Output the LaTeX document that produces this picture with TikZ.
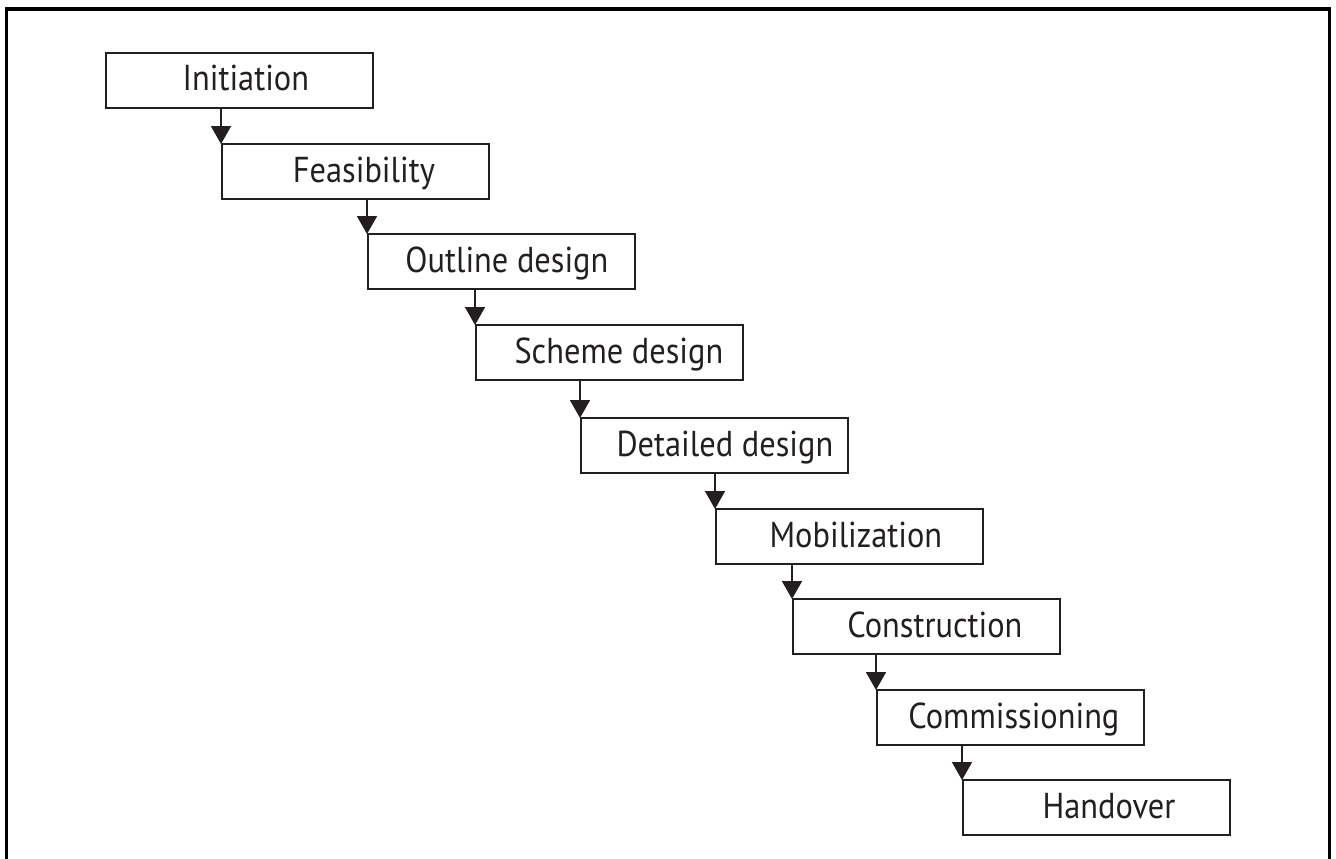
\documentclass[tikz,border=0pt]{standalone}
\usepackage{fontspec}
\setmainfont{PT Sans}[FakeStretch=0.9]
\usetikzlibrary{arrows.meta}
\definecolor{ink}{HTML}{231F20}
\begin{document}
\begin{tikzpicture}[x=1pt,y=-1pt,
  stage/.style={draw=ink, line width=1.8pt, minimum width=267pt, minimum height=55pt,
    inner sep=0pt, anchor=north west},
  caption/.style={anchor=base, text=ink, font=\fontsize{36}{40}\selectfont, inner sep=0pt},
  flow/.style={draw=ink, line width=1.8pt, -{Triangle[width=20pt,length=18pt]}, shorten >=-1pt},
  frame/.style={draw=black, line width=3.5pt}]
\useasboundingbox (0,0) rectangle (1336,859);
% open frame: no bottom edge
\draw[frame] (6.5,859) -- (6.5,9) -- (1329.5,9) -- (1329.5,859);

% stages of the staircase
\node[stage] (s1) at (105,52) {};
\node[stage] (s2) at (221,143) {};
\node[stage] (s3) at (367,233) {};
\node[stage] (s4) at (475,324) {};
\node[stage] (s5) at (580,417) {};
\node[stage] (s6) at (715,508) {};
\node[stage] (s7) at (792,598) {};
\node[stage] (s8) at (876,689) {};
\node[stage] (s9) at (962,779) {};

% stage names
\node[caption] (t1) at ([xshift=6.5pt,yshift=-39pt]s1.north) {Initiation};
\node[caption] (t2) at ([xshift=8.5pt,yshift=-39pt]s2.north) {Feasibility};
\node[caption] (t3) at ([xshift=5.5pt,yshift=-39pt]s3.north) {Outline design};
\node[caption] (t4) at ([xshift=9.5pt,yshift=-39pt]s4.north) {Scheme design};
\node[caption] (t5) at ([xshift=10.5pt,yshift=-39pt]s5.north) {Detailed design};
\node[caption] (t6) at ([xshift=6.5pt,yshift=-39pt]s6.north) {Mobilization};
\node[caption] (t7) at ([xshift=8.5pt,yshift=-39pt]s7.north) {Construction};
\node[caption] (t8) at ([xshift=3.5pt,yshift=-39pt]s8.north) {Commissioning};
\node[caption] (t9) at ([xshift=12.5pt,yshift=-39pt]s9.north) {Handover};

% arrows down to the left corner of the next stage
\foreach \a/\b in {s1/s2,s2/s3,s3/s4,s4/s5,s5/s6,s6/s7,s7/s8,s8/s9}
  \draw[flow] (\a.south -| \b.north west) -- (\b.north west);
\end{tikzpicture}
\end{document}
